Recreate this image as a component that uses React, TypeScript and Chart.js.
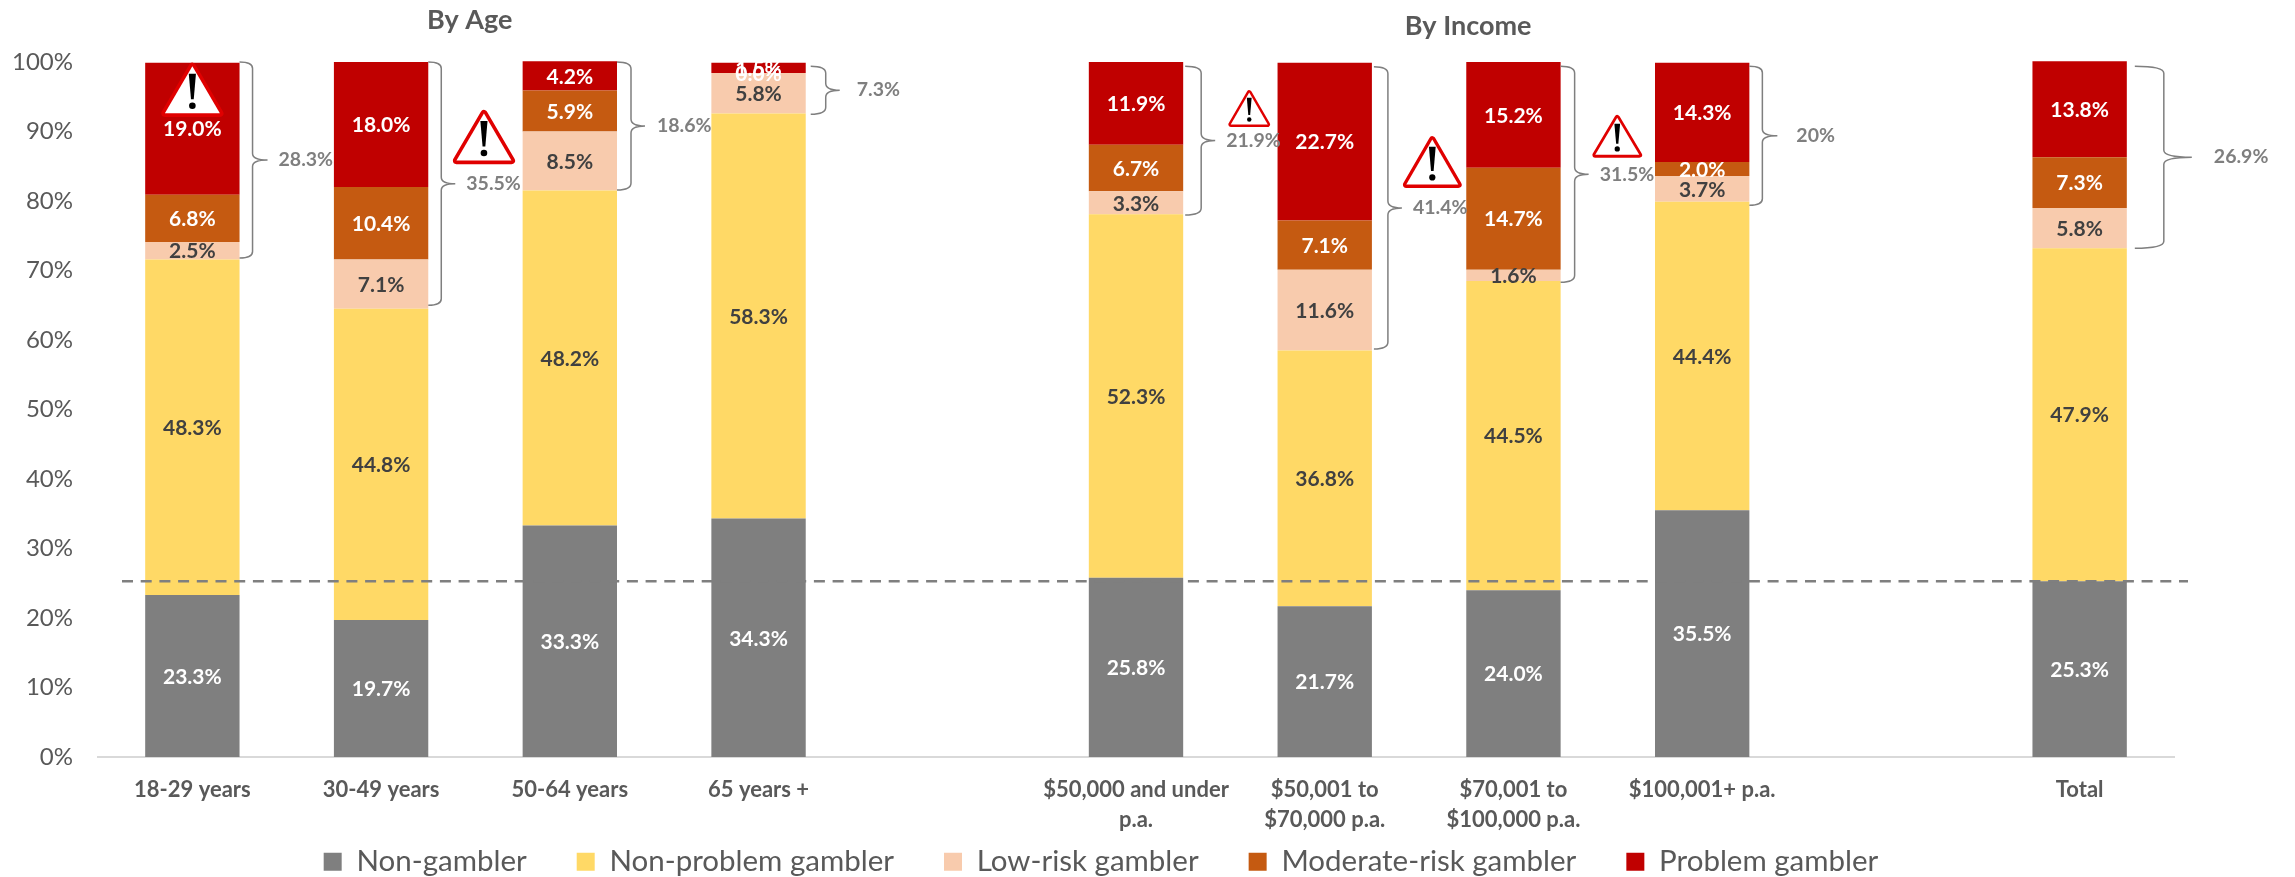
import React, { useEffect, useRef } from "react";
import { Chart, registerables } from "chart.js";

Chart.register(...registerables);

const FONT = "Lato, 'Open Sans', sans-serif";

const categories: (string | string[])[] = [
  "18-29 years", "30-49 years", "50-64 years", "65 years +", "",
  ["$50,000 and under", "p.a."], ["$50,001 to", "$70,000 p.a."], ["$70,001 to", "$100,000 p.a."], "$100,001+ p.a.", "",
  "Total",
];

const nonGambler = [23.3, 19.7, 33.3, 34.3, null, 25.8, 21.7, 24.0, 35.5, null, 25.3];
const nonProblem = [48.3, 44.8, 48.2, 58.3, null, 52.3, 36.8, 44.5, 44.4, null, 47.9];
const lowRisk = [2.5, 7.1, 8.5, 5.8, null, 3.3, 11.6, 1.6, 3.7, null, 5.8];
const moderateRisk = [6.8, 10.4, 5.9, 0.0, null, 6.7, 7.1, 14.7, 2.0, null, 7.3];
const problem = [19.0, 18.0, 4.2, 1.5, null, 11.9, 22.7, 15.2, 14.3, null, 13.8];

const seriesNames = ["Non-gambler", "Non-problem gambler", "Low-risk gambler", "Moderate-risk gambler", "Problem gambler"];
const seriesColors = ["#7f7f7f", "#ffd966", "#f8cbad", "#c55a11", "#c00000"];
const labelColors = ["#ffffff", "#404040", "#404040", "#ffffff", "#ffffff"];

const yTicks = [0, 10, 20, 30, 40, 50, 60, 70, 80, 90, 100];
const referenceLine = 25.3;

// category index, top of brace, bottom of brace, text, gap, width, tip, label gap
const braces: [number, number, number, string, number, number, number, number][] = [
  [0, 100, 71.8, "28.3%", 0, 13, 15, 11],
  [1, 100, 65.0, "35.5%", 0, 13, 14, 11],
  [2, 100, 81.6, "18.6%", 0, 14, 14, 12],
  [3, 99.4, 92.5, "7.3%", 5, 15, 14, 17],
  [5, 99.4, 78.0, "21.9%", 2, 16, 14, 11],
  [6, 99.3, 58.7, "41.4%", 2, 14, 14, 11],
  [7, 99.4, 68.3, "31.5%", 0, 14, 14, 11],
  [8, 99.4, 79.4, "20%", 0, 13, 15, 19],
  [10, 99.4, 73.2, "26.9%", 8, 29, 28, 22],
];

// category position, value at the centre, width, height
const warnings: [number, number, number, number][] = [
  [0, 96.0, 55, 47],
  [1.545, 89.2, 55, 47],
  [5.6, 93.3, 37, 32],
  [6.57, 85.6, 52, 45],
  [7.55, 89.3, 44, 37],
];

const groupTitles: [string, number, number][] = [
  ["By Age", 1.47, 106.0],
  ["By Income", 6.76, 105.1],
];

const annotations = {
  id: "annotations",
  beforeLayout(chart: any) {
    const l = chart.legend;
    if (l && !l.__wrapped) {
      const fit = l.fit;
      l.fit = function () {
        fit.call(this);
        this.height = 40;
      };
      l.__wrapped = true;
    }
  },
  afterLayout(chart: any) {
    chart.legend.left += 14;
    chart.legend.right += 14;
    chart.legend.top = 797;
  },
  afterDatasetsDraw(chart: any) {
    const { ctx, scales } = chart;
    const x = scales.x;
    const y = scales.y;
    const step = x.getPixelForValue(1) - x.getPixelForValue(0);
    const catX = (c: number) => x.getPixelForValue(0) + c * step;
    const half = step / 4;

    ctx.save();
    // reference line
    ctx.strokeStyle = "#7f7f7f";
    ctx.lineWidth = 2.5;
    ctx.setLineDash([11, 7.7]);
    ctx.beginPath();
    ctx.moveTo(122, y.getPixelForValue(referenceLine));
    ctx.lineTo(2188, y.getPixelForValue(referenceLine));
    ctx.stroke();
    ctx.setLineDash([]);

    // braces
    for (const [c, top, bottom, text, gap, w, tip, lgap] of braces) {
      const x0 = catX(c) + half + gap;
      const yT = y.getPixelForValue(top);
      const yB = y.getPixelForValue(bottom);
      const yM = (yT + yB) / 2;
      const r = Math.min(w / 2, 7);
      const xM = x0 + w;
      ctx.strokeStyle = "#7f7f7f";
      ctx.lineWidth = 1.5;
      ctx.beginPath();
      ctx.moveTo(x0, yT);
      ctx.quadraticCurveTo(xM, yT, xM, yT + r);
      ctx.lineTo(xM, yM - r);
      ctx.quadraticCurveTo(xM, yM, xM + tip, yM);
      ctx.quadraticCurveTo(xM, yM, xM, yM + r);
      ctx.lineTo(xM, yB - r);
      ctx.quadraticCurveTo(xM, yB, x0, yB);
      ctx.stroke();
      ctx.fillStyle = "#7f7f7f";
      ctx.font = `bold 19.5px ${FONT}`;
      ctx.textAlign = "left";
      ctx.textBaseline = "middle";
      ctx.fillText(text, xM + tip + lgap, yM);
    }

    // warning triangles
    for (const [c, v, w, h] of warnings) {
      const cx = catX(c);
      const cy = y.getPixelForValue(v);
      ctx.beginPath();
      ctx.moveTo(cx, cy - h / 2);
      ctx.lineTo(cx + w / 2, cy + h / 2);
      ctx.lineTo(cx - w / 2, cy + h / 2);
      ctx.closePath();
      ctx.lineJoin = "round";
      ctx.lineWidth = w * 0.13;
      ctx.strokeStyle = "#e00000";
      ctx.fillStyle = "#ffffff";
      ctx.stroke();
      ctx.fill();
      ctx.fillStyle = "#000000";
      ctx.beginPath();
      ctx.moveTo(cx - w * 0.065, cy - h * 0.34);
      ctx.lineTo(cx + w * 0.065, cy - h * 0.34);
      ctx.lineTo(cx + w * 0.025, cy + h * 0.2);
      ctx.lineTo(cx - w * 0.025, cy + h * 0.2);
      ctx.closePath();
      ctx.fill();
      ctx.beginPath();
      ctx.arc(cx, cy + h * 0.34, w * 0.06, 0, Math.PI * 2);
      ctx.fill();
    }

    // data labels
    ctx.font = `bold 21px ${FONT}`;
    ctx.textAlign = "center";
    ctx.textBaseline = "middle";
    chart.data.datasets.forEach((ds: any, i: number) => {
      chart.getDatasetMeta(i).data.forEach((bar: any, j: number) => {
        const val = ds.data[j];
        if (val === null || val === undefined) return;
        const p = bar.getCenterPoint();
        ctx.fillStyle = labelColors[i];
        ctx.fillText(`${val.toFixed(1)}%`, p.x, p.y + 1);
      });
    });

    // group titles
    ctx.fillStyle = "#595959";
    ctx.font = `bold 27px ${FONT}`;
    for (const [text, c, v] of groupTitles) {
      ctx.fillText(text, catX(c), y.getPixelForValue(v));
    }
    ctx.restore();
  },
};

export default function App() {
  const ref = useRef<HTMLCanvasElement>(null);
  useEffect(() => {
    const chart = new Chart(ref.current!, {
      type: "bar",
      data: {
        labels: categories as any,
        datasets: seriesNames.map((label, i) => ({
          label,
          data: [nonGambler, nonProblem, lowRisk, moderateRisk, problem][i] as any,
          backgroundColor: seriesColors[i],
          borderWidth: 0,
          categoryPercentage: 1,
          barPercentage: 0.5,
          clip: false as any,
        })),
      },
      options: {
        animation: false,
        responsive: false,
        layout: { padding: { top: 62, right: 121, left: 0, bottom: 0 } },
        scales: {
          x: {
            stacked: true,
            afterFit: (s: any) => { s.height = 80; },
            grid: { display: false },
            border: { color: "#d9d9d9", width: 2 },
            ticks: {
              autoSkip: false,
              maxRotation: 0,
              padding: 10,
              color: "#595959",
              font: { family: FONT, size: 22, weight: "bold", lineHeight: 1.36 },
            },
          },
          y: {
            stacked: true,
            min: 0,
            max: 100,
            afterBuildTicks: (s: any) => { s.ticks = yTicks.map((value) => ({ value })); },
            afterFit: (s: any) => { s.width = 98; },
            grid: { display: false, drawTicks: false },
            border: { display: false },
            ticks: {
              padding: 25,
              color: "#595959",
              font: { family: FONT, size: 24 },
              callback: (v: any) => `${v}%`,
            },
          },
        },
        plugins: {
          title: { display: false },
          tooltip: { enabled: false },
          legend: {
            position: "bottom",
            labels: {
              boxWidth: 18,
              boxHeight: 18,
              padding: 50,
              color: "#595959",
              font: { family: FONT, size: 29.5 },
            },
          },
        },
      },
      plugins: [annotations],
    } as any);
    return () => chart.destroy();
  }, []);
  return (
    <div style={{ position: "absolute", left: 0, top: 0, width: 2295, height: 877, background: "#fff" }}>
      <canvas ref={ref} width={2295} height={877} style={{ display: "block" }} />
    </div>
  );
}
